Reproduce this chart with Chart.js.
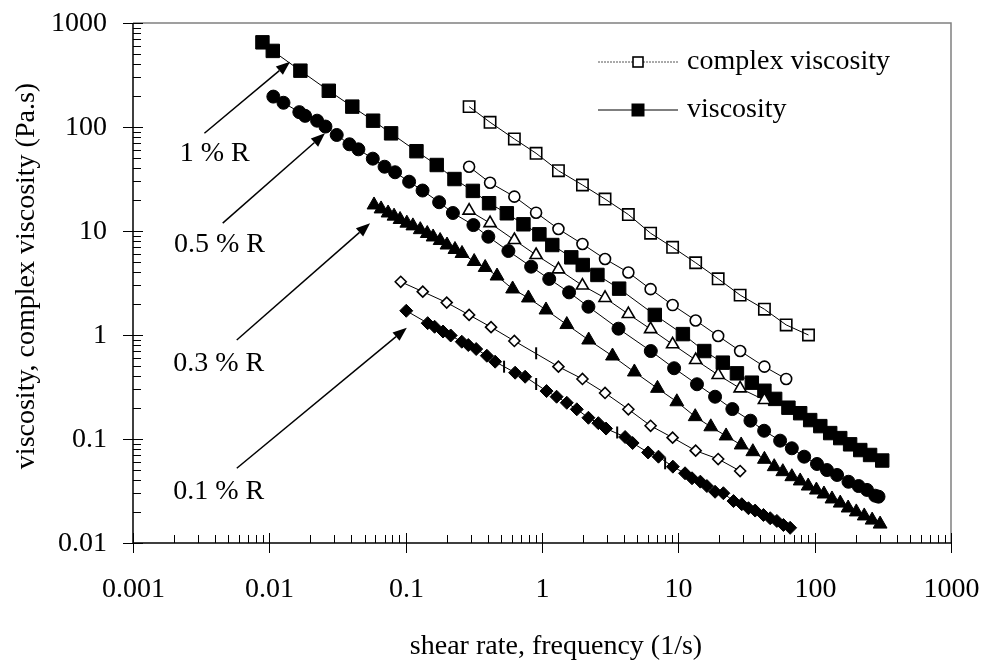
<!DOCTYPE html>
<html>
<head>
<meta charset="utf-8">
<script src="https://cdn.jsdelivr.net/npm/chart.js@4.4.1/dist/chart.umd.min.js"></script>
<style>
  html, body { margin: 0; padding: 0; background: #fff; }
  #wrap { width: 985px; height: 664px; }
</style>
</head>
<body>
<div id="wrap"><canvas id="visc" width="985" height="664"></canvas></div>
<script>
// axis ticks
const xTickLabels = ['0.001', '0.01', '0.1', '1', '10', '100', '1000'];
const yTickLabels = ['0.01', '0.1', '1', '10', '100', '1000'];
const xTitle = 'shear rate, frequency (1/s)';
const yTitle = 'viscosity, complex viscosity (Pa.s)';
const legendLabels = ['complex viscosity', 'viscosity'];

// complex viscosity (oscillation), open symbols
const freq = [0.292, 0.416, 0.627, 0.905, 1.32, 1.98, 2.90, 4.30, 6.26, 9.08, 13.4, 19.6, 28.4, 42.8, 61.8, 90.1];
const cvisc1 = [157, 111, 76.7, 55.9, 38.0, 27.7, 20.3, 14.4, 9.52, 6.97, 4.95, 3.47, 2.42, 1.77, 1.25, 1.0];
const cvisc05 = [41.5, 29.1, 21.4, 15.0, 10.45, 7.50, 5.38, 3.99, 2.76, 1.94, 1.38, 0.978, 0.702, 0.496, 0.378];
const cvisc03 = [15.7, 11.9, 8.19, 5.88, 4.28, 2.99, 2.27, 1.59, 1.14, 0.814, 0.575, 0.413, 0.307, 0.237];
const freq01 = [0.092, 0.1335, 0.200, 0.292, 0.423, 0.627, 1.32, 1.98, 2.90, 4.30, 6.26, 9.08, 13.4, 19.6, 28.4];
const cvisc01 = [3.25, 2.61, 2.05, 1.56, 1.19, 0.876, 0.496, 0.378, 0.277, 0.193, 0.134, 0.103, 0.0772, 0.0642, 0.0492];

// steady shear viscosity, filled symbols
const rate1 = [0.0089, 0.0106, 0.0169, 0.0273, 0.0406, 0.0577, 0.0782, 0.120, 0.169, 0.228, 0.311, 0.409, 0.552, 0.731, 0.957, 1.19, 1.64, 1.99, 2.55, 3.68, 6.72, 10.8, 15.5, 21.2, 26.9, 34.6, 42.8, 51.3, 64.2, 78.3, 92.7, 110, 130, 154, 182, 216, 255, 313];
const visc1 = [652, 539, 348, 223, 157, 115, 86.9, 58.5, 43.1, 31.6, 24.3, 18.5, 14.8, 11.6, 9.29, 7.33, 5.58, 4.71, 3.78, 2.79, 1.56, 1.02, 0.701, 0.542, 0.428, 0.348, 0.291, 0.243, 0.200, 0.177, 0.152, 0.133, 0.114, 0.102, 0.0889, 0.0783, 0.0702, 0.0621];

const rate05 = [0.0107, 0.0127, 0.0166, 0.0183, 0.0224, 0.0258, 0.0312, 0.0387, 0.045, 0.0574, 0.070, 0.0836, 0.106, 0.133, 0.176, 0.222, 0.314, 0.404, 0.567, 0.832, 1.13, 1.58, 2.19, 3.64, 6.28, 9.31, 13.7, 18.6, 24.9, 33.8, 42.6, 55.8, 68.0, 83.8, 104, 123, 146, 177, 210, 242, 278, 294];
const visc05 = [196, 171, 139, 128, 115, 101, 83.8, 68.2, 61.0, 49.6, 41.5, 36.7, 29.8, 24.5, 18.9, 14.9, 11.4, 8.81, 6.42, 4.54, 3.46, 2.57, 1.87, 1.15, 0.701, 0.479, 0.336, 0.255, 0.194, 0.150, 0.120, 0.0964, 0.0814, 0.0676, 0.0575, 0.0503, 0.0451, 0.0388, 0.0353, 0.0324, 0.0285, 0.0279];

const rate03 = [0.0586, 0.066, 0.0743, 0.0822, 0.091, 0.102, 0.113, 0.128, 0.144, 0.159, 0.179, 0.201, 0.230, 0.259, 0.318, 0.383, 0.468, 0.609, 0.795, 1.07, 1.52, 2.20, 3.29, 4.76, 7.03, 9.75, 13.3, 17.3, 22.4, 28.9, 35.2, 42.8, 50.5, 58.4, 68.0, 78.3, 89.6, 103, 117, 134, 154, 176, 202, 231, 264, 302];
const visc03 = [17.8, 16.3, 14.9, 13.9, 12.9, 11.9, 11.2, 10.3, 9.46, 8.76, 8.10, 7.33, 6.64, 6.08, 5.09, 4.46, 3.69, 2.77, 2.27, 1.74, 1.26, 0.895, 0.628, 0.441, 0.307, 0.228, 0.164, 0.131, 0.107, 0.0876, 0.0755, 0.0638, 0.0542, 0.0485, 0.0434, 0.0395, 0.0353, 0.0323, 0.0296, 0.0265, 0.0242, 0.0217, 0.0199, 0.0182, 0.0166, 0.0152];

const rate01 = [0.101, 0.145, 0.163, 0.188, 0.214, 0.258, 0.288, 0.329, 0.394, 0.453, 0.635, 0.752, 1.08, 1.28, 1.52, 1.80, 2.19, 2.59, 2.95, 4.07, 4.62, 6.00, 7.15, 9.12, 11.2, 12.6, 14.5, 16.2, 18.6, 21.4, 25.4, 29.2, 32.7, 36.6, 42.1, 47.2, 52.8, 59.0, 66.1];
const visc01 = [1.71, 1.30, 1.20, 1.08, 0.989, 0.862, 0.801, 0.733, 0.632, 0.554, 0.434, 0.397, 0.289, 0.255, 0.223, 0.193, 0.160, 0.142, 0.126, 0.1045, 0.0915, 0.0742, 0.0676, 0.0542, 0.0468, 0.0419, 0.0389, 0.0353, 0.0311, 0.0301, 0.0253, 0.0236, 0.0216, 0.0205, 0.0186, 0.0173, 0.0163, 0.0149, 0.0140];

// points drawn as short vertical dashes on the 0.1 % curves
const markX = [0.527, 0.906, 3.56, 8.0, 0.906];
const markY = [0.496, 0.338, 0.1155, 0.0584, 0.667];

// concentration labels and their arrows
const concLabels = ['1 % R', '0.5 % R', '0.3 % R', '0.1 % R'];
const labelX = [0.0022, 0.0020, 0.00197, 0.00197];
const labelY = [55, 7.33, 0.534, 0.0311];
const arrowFromX = [0.00334, 0.00455, 0.00577, 0.00577];
const arrowFromY = [87, 11.9, 0.895, 0.0523];
const arrowToX = [0.0142, 0.0256, 0.0548, 0.102];
const arrowToY = [425, 87, 11.9, 1.175];

const FONT = '"Liberation Serif", "Times New Roman", serif';
const pts = (xs, ys) => ys.map((v, i) => ({ x: xs[i], y: v }));

function series(xs, ys, style, radius, filled, clearFill) {
  return {
    data: pts(xs, ys),
    showLine: true,
    borderColor: '#000',
    borderWidth: 1,
    backgroundColor: filled ? '#000' : (clearFill ? 'rgba(0,0,0,0)' : '#fff'),
    pointStyle: style,
    pointRadius: radius,
    pointBorderWidth: filled ? 1 : 1.6,
    pointHoverRadius: radius
  };
}

const axesAndNotes = {
  id: 'axesAndNotes',
  afterDraw(chart) {
    const { ctx, chartArea: a, scales: { x, y } } = chart;
    ctx.save();

    // grey frame top and right
    ctx.strokeStyle = '#808080';
    ctx.lineWidth = 1.5;
    ctx.beginPath();
    ctx.moveTo(a.left, a.top);
    ctx.lineTo(a.right, a.top);
    ctx.lineTo(a.right, a.bottom);
    ctx.stroke();

    // black axes
    ctx.strokeStyle = '#000';
    ctx.beginPath();
    ctx.moveTo(a.left, a.top);
    ctx.lineTo(a.left, a.bottom);
    ctx.lineTo(a.right, a.bottom);
    ctx.stroke();

    ctx.lineWidth = 1;
    ctx.fillStyle = '#000';
    ctx.font = '28px ' + FONT;

    // x ticks
    ctx.textAlign = 'center';
    ctx.textBaseline = 'middle';
    xTickLabels.forEach((lab, i) => {
      const v = parseFloat(lab);
      const px = Math.round(x.getPixelForValue(v)) + 0.5;
      ctx.beginPath();
      ctx.moveTo(px, a.bottom - 10);
      ctx.lineTo(px, a.bottom + 10);
      ctx.stroke();
      ctx.fillText(lab, px, a.bottom + 47);
      if (i < xTickLabels.length - 1) {
        for (let k = 2; k <= 9; k++) {
          const mx = Math.round(x.getPixelForValue(v * k)) + 0.5;
          ctx.beginPath();
          ctx.moveTo(mx, a.bottom - 8);
          ctx.lineTo(mx, a.bottom);
          ctx.stroke();
        }
      }
    });

    // y ticks
    ctx.textAlign = 'right';
    yTickLabels.forEach((lab, i) => {
      const v = parseFloat(lab);
      const py = Math.round(y.getPixelForValue(v)) + 0.5;
      ctx.beginPath();
      ctx.moveTo(a.left - 10, py);
      ctx.lineTo(a.left + 10, py);
      ctx.stroke();
      ctx.fillText(lab, a.left - 26, py);
      if (i < yTickLabels.length - 1) {
        for (let k = 2; k <= 9; k++) {
          const my = Math.round(y.getPixelForValue(v * k)) + 0.5;
          ctx.beginPath();
          ctx.moveTo(a.left, my);
          ctx.lineTo(a.left + 8, my);
          ctx.stroke();
        }
      }
    });

    // axis titles
    ctx.textAlign = 'center';
    ctx.fillText(xTitle, 556, a.bottom + 104);
    ctx.save();
    ctx.translate(27, 276);
    ctx.rotate(-Math.PI / 2);
    ctx.fillText(yTitle, 0, 0);
    ctx.restore();

    // concentration labels with arrows
    ctx.textAlign = 'left';
    concLabels.forEach((lab, i) => {
      ctx.fillText(lab, x.getPixelForValue(labelX[i]), y.getPixelForValue(labelY[i]));
      const x0 = x.getPixelForValue(arrowFromX[i]), y0 = y.getPixelForValue(arrowFromY[i]);
      const x1 = x.getPixelForValue(arrowToX[i]), y1 = y.getPixelForValue(arrowToY[i]);
      const ang = Math.atan2(y1 - y0, x1 - x0);
      const len = 14, hw = 5.5;
      const bx = x1 - Math.cos(ang) * len, by = y1 - Math.sin(ang) * len;
      ctx.lineWidth = 1.5;
      ctx.beginPath();
      ctx.moveTo(x0, y0);
      ctx.lineTo(bx, by);
      ctx.stroke();
      ctx.beginPath();
      ctx.moveTo(x1, y1);
      ctx.lineTo(bx + Math.sin(ang) * hw, by - Math.cos(ang) * hw);
      ctx.lineTo(bx - Math.sin(ang) * hw, by + Math.cos(ang) * hw);
      ctx.closePath();
      ctx.fill();
    });

    // legend
    const lx0 = 598, lx1 = 678, lmid = 638, tx = 687;
    const rows = [62, 110];
    ctx.strokeStyle = '#555';
    ctx.lineWidth = 1;
    ctx.setLineDash([2, 1]);
    ctx.beginPath();
    ctx.moveTo(lx0, rows[0]);
    ctx.lineTo(lx1, rows[0]);
    ctx.stroke();
    ctx.setLineDash([]);
    ctx.lineWidth = 1.5;
    ctx.beginPath();
    ctx.moveTo(lx0, rows[1]);
    ctx.lineTo(lx1, rows[1]);
    ctx.stroke();
    ctx.strokeStyle = '#000';
    ctx.fillStyle = '#fff';
    ctx.fillRect(lmid - 5, rows[0] - 5, 10, 10);
    ctx.lineWidth = 1.6;
    ctx.strokeRect(lmid - 5, rows[0] - 5, 10, 10);
    ctx.fillStyle = '#000';
    ctx.fillRect(lmid - 6.5, rows[1] - 6.5, 13, 13);
    ctx.textAlign = 'left';
    legendLabels.forEach((lab, i) => ctx.fillText(lab, tx, rows[i]));

    ctx.restore();
  }
};

new Chart(document.getElementById('visc').getContext('2d'), {
  type: 'scatter',
  data: {
    datasets: [
      series(freq, cvisc1, 'rect', 8, false, true),
      series(freq, cvisc05, 'circle', 5.5, false),
      series(freq, cvisc03, 'triangle', 7, false),
      series(freq01, cvisc01, 'rectRot', 5.5, false),
      series(rate1, visc1, 'rect', 9.5, true),
      series(rate05, visc05, 'circle', 6.5, true),
      series(rate03, visc03, 'triangle', 8, true),
      series(rate01, visc01, 'rectRot', 6.5, true),
      {
        data: pts(markX, markY),
        showLine: false,
        borderColor: '#000',
        pointStyle: 'line',
        rotation: 90,
        pointRadius: 6,
        pointBorderWidth: 2
      }
    ]
  },
  options: {
    responsive: false,
    animation: false,
    clip: false,
    layout: { padding: { left: 133, right: 34, top: 23, bottom: 121 } },
    elements: { line: { tension: 0 } },
    plugins: { legend: { display: false }, tooltip: { enabled: false } },
    scales: {
      x: { type: 'logarithmic', min: 0.001, max: 1000, display: false },
      y: { type: 'logarithmic', min: 0.01, max: 1000, display: false }
    }
  },
  plugins: [axesAndNotes]
});
</script>
</body>
</html>
